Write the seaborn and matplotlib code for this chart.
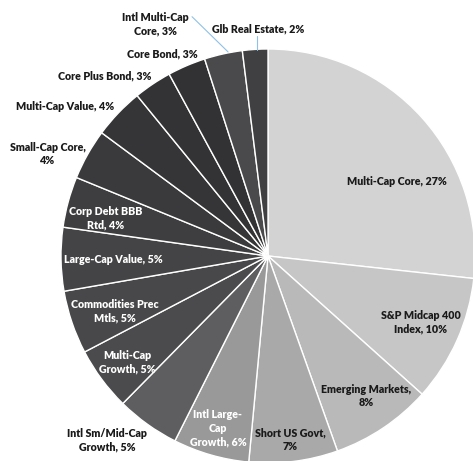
import matplotlib
matplotlib.use("Agg")
import matplotlib.pyplot as plt
import seaborn as sns

sns.set_theme(style="white")
plt.rcParams['font.family'] = ['Lato', 'DejaVu Sans']

categories = ["Multi-Cap Core", "S&P Midcap 400 Index", "Emerging Markets", "Short US Govt",
              "Intl Large-Cap Growth", "Intl Sm/Mid-Cap Growth", "Multi-Cap Growth",
              "Commodities Prec Mtls", "Large-Cap Value", "Corp Debt BBB Rtd", "Small-Cap Core",
              "Multi-Cap Value", "Core Plus Bond", "Core Bond", "Intl Multi-Cap Core", "Glb Real Estate"]
values = [27, 10, 8, 7, 6, 5, 5, 5, 5, 4, 4, 4, 3, 3, 3, 2]
label_texts = ["Multi-Cap Core, 27%", "S&P Midcap 400\nIndex, 10%", "Emerging Markets,\n8%",
               "Short US Govt,\n7%", "Intl Large-\nCap\nGrowth, 6%", "Intl Sm/Mid-Cap\nGrowth, 5%",
               "Multi-Cap\nGrowth, 5%", "Commodities Prec\nMtls, 5%", "Large-Cap Value, 5%",
               "Corp Debt BBB\nRtd, 4%", "Small-Cap Core,\n4%", "Multi-Cap Value, 4%",
               "Core Plus Bond, 3%", "Core Bond, 3%", "Intl Multi-Cap\nCore, 3%", "Glb Real Estate, 2%"]
colors = ["#d3d3d3", "#c6c6c6", "#b9b9b9", "#a9a9a9", "#999999", "#5e5e60", "#4b4b4d",
          "#48484a", "#444446", "#3e3e40", "#3a3a3c", "#353537", "#333335", "#323234",
          "#4a4a4c", "#404042"]
label_colors = ["#1a1a1a"] * 4 + ["white", "#1a1a1a", "white", "white", "white", "white"] + ["#1a1a1a"] * 6
label_pos = [(0.623, 0.362), (0.739, -0.319), (0.473, -0.676), (0.106, -0.889),
             (-0.242, -0.831), (-0.778, -0.889), (-0.681, -0.512), (-0.739, -0.266),
             (-0.749, -0.019), (-0.783, 0.184), (-1.063, 0.493), (-0.981, 0.720),
             (-0.787, 0.870), (-0.512, 0.976), (-0.546, 1.121), (-0.048, 1.097)]

fig = plt.figure(figsize=(4.73, 4.61), dpi=100)
ax = fig.add_axes([0, 0, 1, 1])
ax.pie(values, colors=colors, startangle=90, counterclock=False,
       wedgeprops=dict(edgecolor="white", linewidth=1.0), radius=1.0)
ax.set_xlim(-1.2947, 0.9903)
ax.set_ylim(-0.9903, 1.2367)
ax.set_aspect("equal")
ax.axis("off")

for txt, (x, y), c in zip(label_texts, label_pos, label_colors):
    ax.text(x, y, txt, ha="center", va="center", fontsize=7.7, fontweight="heavy",
            color=c, linespacing=1.3)

# leader lines
ax.plot([-0.367, -0.193], [1.156, 0.986], color="#8fc0e8", lw=0.8)
ax.plot([-0.053, -0.053], [1.063, 0.995], color="#8fc0e8", lw=0.8)

fig.savefig("out.png", dpi=100)
